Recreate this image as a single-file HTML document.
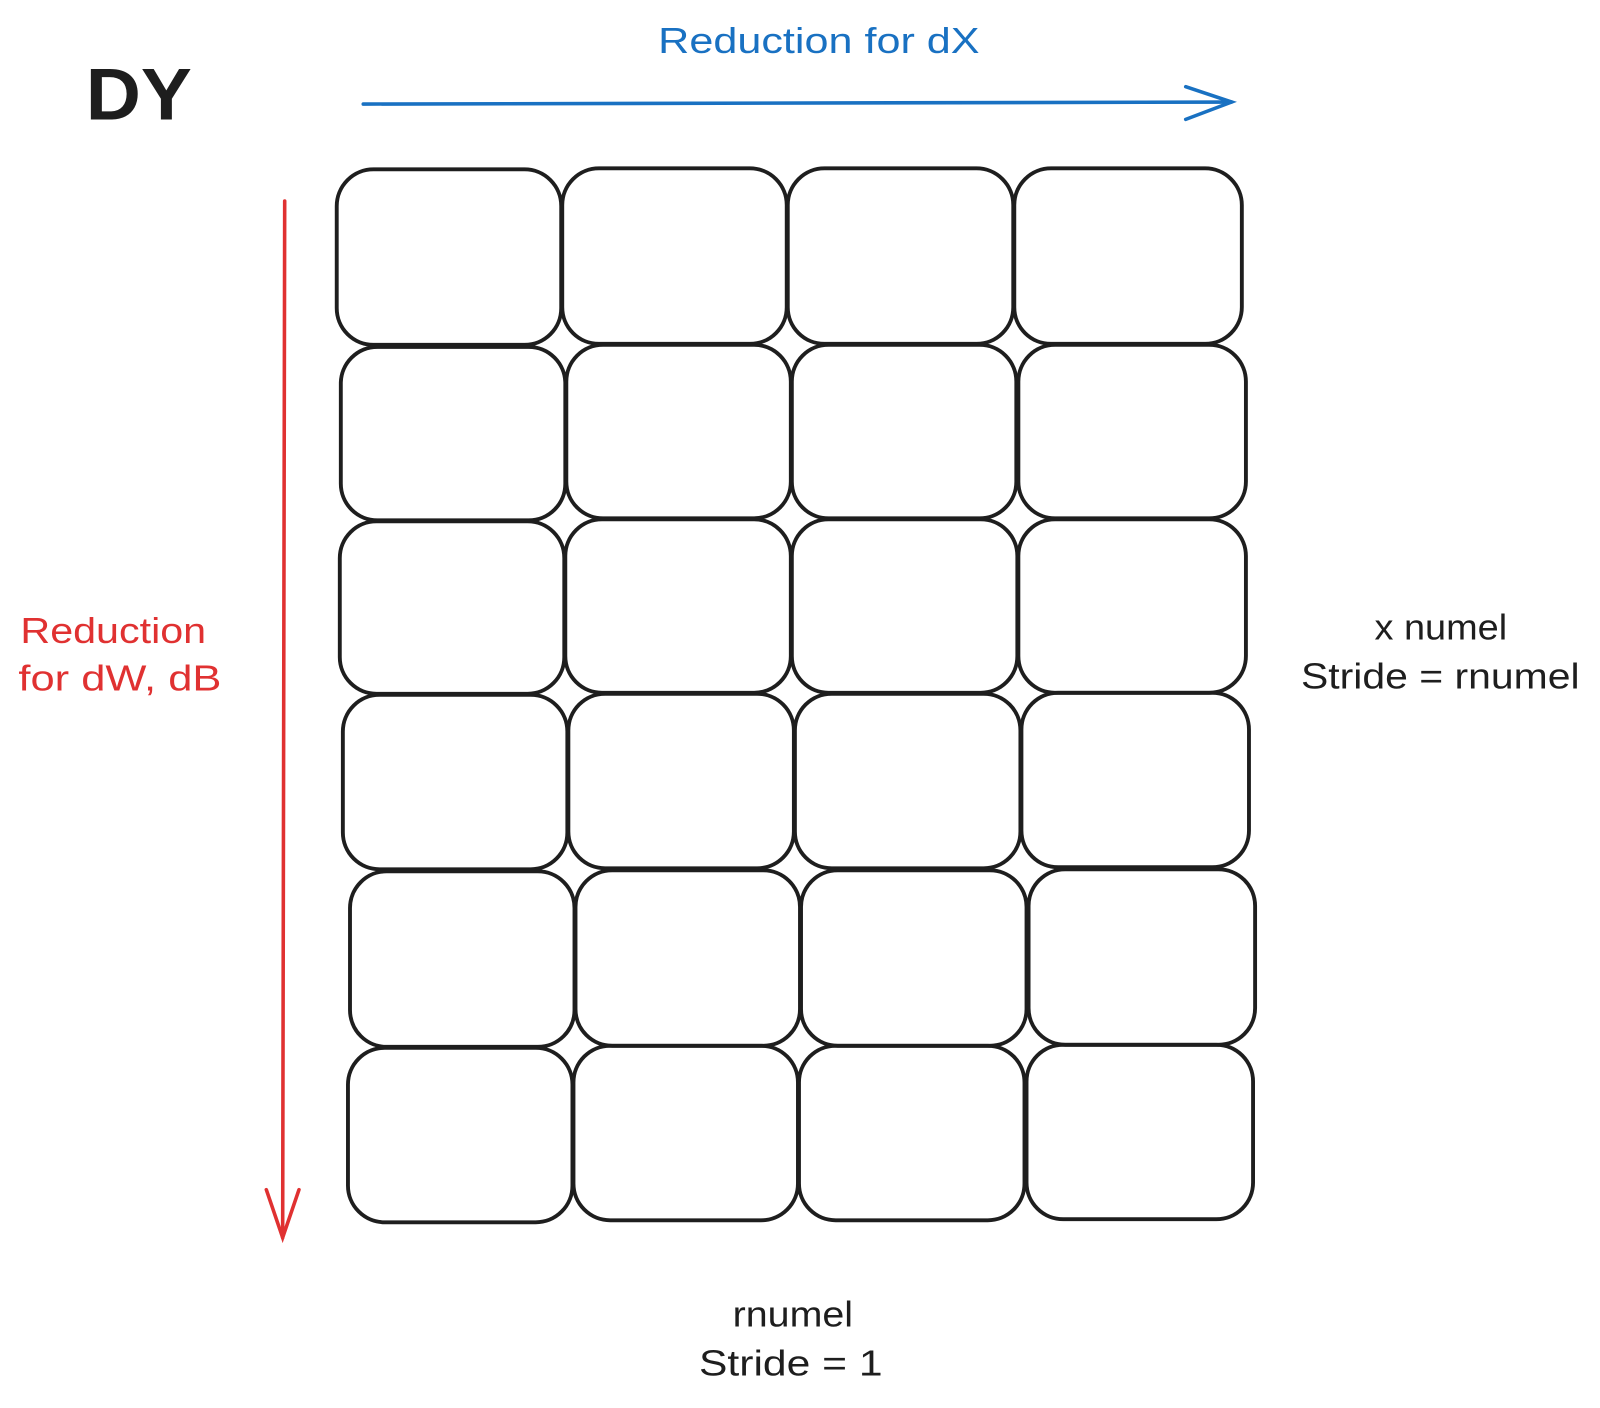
<!DOCTYPE html>
<html><head><meta charset="utf-8"><style>
html,body{margin:0;padding:0;background:#fff;}
svg{display:block;}
text{font-family:"Liberation Sans","DejaVu Sans",sans-serif;}
</style></head><body>
<svg width="1600" height="1408" viewBox="0 0 1568 1380" preserveAspectRatio="none" xmlns="http://www.w3.org/2000/svg">
<g fill="none" stroke="#1e1e1e" stroke-width="3.8">
<rect x="330" y="166" width="220" height="172" rx="36"/>
<rect x="551" y="165" width="220" height="172" rx="36"/>
<rect x="772" y="165" width="221" height="172" rx="36"/>
<rect x="994" y="165" width="223" height="172" rx="36"/>
<rect x="334" y="340" width="220" height="170" rx="36"/>
<rect x="555" y="338" width="220" height="170" rx="36"/>
<rect x="776" y="338" width="220" height="170" rx="36"/>
<rect x="998" y="338" width="223" height="170" rx="36"/>
<rect x="333" y="511" width="220" height="169" rx="36"/>
<rect x="554" y="509" width="221" height="170" rx="36"/>
<rect x="776" y="509" width="221" height="170" rx="36"/>
<rect x="998" y="509" width="223" height="170" rx="36"/>
<rect x="336" y="681" width="220" height="171" rx="36"/>
<rect x="557" y="680" width="221" height="171" rx="36"/>
<rect x="779" y="680" width="221" height="171" rx="36"/>
<rect x="1001" y="679" width="223" height="171" rx="36"/>
<rect x="343" y="854" width="220" height="172" rx="36"/>
<rect x="564" y="853" width="220" height="172" rx="36"/>
<rect x="785" y="853" width="221" height="172" rx="36"/>
<rect x="1008" y="852" width="222" height="172" rx="36"/>
<rect x="341" y="1027" width="220" height="171" rx="36"/>
<rect x="562" y="1025" width="220" height="171" rx="36"/>
<rect x="783" y="1025" width="221" height="171" rx="36"/>
<rect x="1006" y="1024" width="222" height="171" rx="36"/>
</g>
<g stroke="#e03131" stroke-width="3.5" fill="none" stroke-linecap="round">
<path d="M279 197 L277 1213"/>
<path d="M261 1166 L277 1213 L293 1166"/>
</g>
<g stroke="#1971c2" stroke-width="3.5" fill="none" stroke-linecap="round">
<path d="M356 102 L1207 100"/>
<path d="M1162 85 L1207 100 L1162 117"/>
</g>
<text x="84" y="117" font-size="72" font-weight="bold" fill="#1e1e1e" textLength="104" lengthAdjust="spacingAndGlyphs">DY</text>
<text x="645" y="52" font-size="35" fill="#1971c2" textLength="315" lengthAdjust="spacingAndGlyphs">Reduction for dX</text>
<text x="20" y="630" font-size="35" fill="#e03131" textLength="182" lengthAdjust="spacingAndGlyphs">Reduction</text>
<text x="18" y="677" font-size="35" fill="#e03131" textLength="199" lengthAdjust="spacingAndGlyphs">for dW, dB</text>
<text x="1347" y="627" font-size="35" fill="#1e1e1e" textLength="130" lengthAdjust="spacingAndGlyphs">x numel</text>
<text x="1275" y="675" font-size="35" fill="#1e1e1e" textLength="273" lengthAdjust="spacingAndGlyphs">Stride = rnumel</text>
<text x="718" y="1300" font-size="35" fill="#1e1e1e" textLength="118" lengthAdjust="spacingAndGlyphs">rnumel</text>
<text x="685" y="1348" font-size="35" fill="#1e1e1e" textLength="180" lengthAdjust="spacingAndGlyphs">Stride = 1</text>
</svg>
</body></html>
